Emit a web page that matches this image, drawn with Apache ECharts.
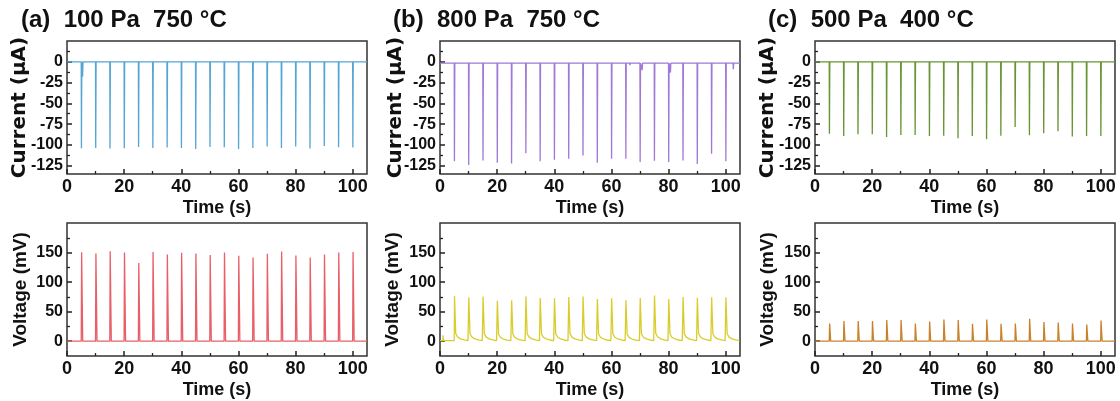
<!DOCTYPE html>
<html>
<head>
<meta charset="utf-8">
<script src="https://cdn.jsdelivr.net/npm/echarts@6/dist/echarts.min.js"></script>
<style>
html,body{margin:0;padding:0;background:#fff;}
#c{width:1120px;height:401px;}
</style>
</head>
<body>
<div id="c"></div>
<script>
// ---- data ----
const panelTitles = ['(a)  100 Pa  750 °C', '(b)  800 Pa  750 °C', '(c)  500 Pa  400 °C'];
const pulseTimes = [5,10,15,20,25,30,35,40,45,50,55,60,65,70,75,80,85,90,95,100];

const currentA = [-104,-103.6,-104.4,-104,-102.4,-103.6,-103,-103.6,-104.8,-102.4,-102.8,-104.8,-103.6,-102,-103.6,-102,-104.4,-101.2,-102.8,-103.2];
const voltageA = [150.6,148.4,152.3,150,132.2,151,146.7,149.5,148.4,146,150,144.5,141.7,147.8,151.7,145,141.7,146.7,150,151];
const currentB = [-119.8,-124.2,-118.7,-121.5,-122.3,-110,-119.8,-117.9,-116.7,-112.7,-121.4,-116.7,-116.7,-120.6,-119,-120.6,-118.7,-123,-110.7,-119.8];
const voltageB = [76.4,74.2,75.8,68.6,69.1,75.8,73,72.5,74.7,75.8,71.4,72.5,69.1,73,77.5,71.4,74.7,73.6,74.2,74.2];
const currentC = [-86.5,-89.3,-87.3,-87.3,-90.5,-88.1,-88.1,-89.3,-88.9,-92,-89.3,-93.3,-88.9,-78.6,-88.5,-86.1,-83.7,-90,-89.3,-89.3];
const voltageC = [30.1,34,34,34,35.7,35.7,30.1,33.5,36.8,35.7,29.6,36.8,29.6,30.1,37.9,32.3,31.8,30.1,28.4,35.1];

// small extra dips / bumps seen in the traces: [time, value]
const extraA = [[5.4,-18]];
const extraB = [[66.4,-4],[70.7,-10],[80.6,-13],[102.6,-9]];
const extraVB = [[1.0,10]];

const baseCurrentB = -1.5;
const baseVoltageB = 1;

const xTickLabels = [0,20,40,60,80,100];
const xMinorTicks = [10,30,50,70,90];
const curTickLabels = [0,-25,-50,-75,-100,-125];
const curMinorTicks = [12.5,-12.5,-37.5,-62.5,-87.5,-112.5];
const voltTickLabels = [0,50,100,150];
const voltMinorTicks = [25,75,125,175];

// pulse shapes (time offset, fraction of peak)
const shapeCurrent = [[-0.02,0],[0.05,1],[0.18,0]];
const shapeVoltNarrow = [[-0.02,0],[0.12,1],[0.5,0]];
const shapeVoltSlow = [[-0.02,0],[0.08,1],[0.5,0.16],[1.2,0.08],[2.2,0.04],[3.5,0.015],[4.8,0]];

function buildTrace(times, peaks, shape, base, extras) {
  const pts = [[0, base]];
  times.forEach((t, i) => {
    shape.forEach(([dt, f]) => pts.push([t + dt, base + f * (peaks[i] - base)]));
  });
  (extras || []).forEach(([t, v]) => {
    pts.push([t - 0.03, base], [t + 0.05, v], [t + 0.2, base]);
  });
  pts.push([105, base]);
  pts.sort((a, b) => a[0] - b[0]);
  return pts;
}

const colors = {
  a: ['#55a5d3', '#e85f68'],
  b: ['#a078d6', '#d9cd2e'],
  c: ['#689434', '#c9822a']
};

const lefts = [67, 440, 815];
const gridW = 300;
const topRow = {top: 41, height: 133};
const botRow = {top: 223, height: 133};
const titleLefts = [21, 393, 768];
const curNameGaps = [37, 34, 37];
const voltNameGaps = [37, 38, 38];

const font = 'Liberation Sans, Arial, sans-serif';
const wideFont = 'DejaVu Sans, Liberation Sans, sans-serif';
const txt = '#111';

const grids = [], xAxes = [], yAxes = [], series = [], titles = [];

const traces = [
  [buildTrace(pulseTimes, currentA, shapeCurrent, 0, extraA), buildTrace(pulseTimes, voltageA, shapeVoltNarrow, 0)],
  [buildTrace(pulseTimes, currentB, shapeCurrent, baseCurrentB, extraB), buildTrace(pulseTimes, voltageB, shapeVoltSlow, baseVoltageB, extraVB)],
  [buildTrace(pulseTimes, currentC, shapeCurrent, 0), buildTrace(pulseTimes, voltageC, shapeVoltNarrow, 0)]
];
const colList = [colors.a, colors.b, colors.c];

for (let p = 0; p < 3; p++) {
  titles.push({
    text: panelTitles[p], left: titleLefts[p], top: 8, padding: 0,
    textStyle: {fontFamily: font, fontWeight: 'bold', fontSize: 24, color: txt}
  });
  for (let r = 0; r < 2; r++) {
    const g = grids.length;
    const row = r === 0 ? topRow : botRow;
    grids.push({left: lefts[p], top: row.top, width: gridW, height: row.height,
      show: true, borderColor: '#333', borderWidth: 1.5, backgroundColor: 'transparent'});
    xAxes.push({
      type: 'value', gridIndex: g, min: 0, max: 105, position: 'bottom',
      axisLine: {show: false, onZero: false},
      axisTick: {show: true, inside: true, length: 5, customValues: xTickLabels, lineStyle: {color: '#222', width: 1.5}},
      axisLabel: {customValues: xTickLabels, margin: 4, fontFamily: font, fontWeight: 'bold', fontSize: 18, color: txt},
      splitLine: {show: false},
      name: 'Time (s)', nameLocation: 'middle', nameGap: 25, nameMoveOverlap: false,
      nameTextStyle: {fontFamily: font, fontWeight: 'bold', fontSize: 18, color: txt}
    });
    xAxes.push({
      type: 'value', gridIndex: g, min: 0, max: 105, position: 'bottom',
      axisLine: {show: false, onZero: false},
      axisTick: {show: true, inside: true, length: 3, customValues: xMinorTicks, lineStyle: {color: '#222', width: 1.3}},
      axisLabel: {show: false}, splitLine: {show: false}
    });
    const isCur = r === 0;
    yAxes.push({
      type: 'value', gridIndex: g, position: 'left',
      min: isCur ? -135 : -25, max: isCur ? 25 : 200,
      axisLine: {show: false, onZero: false},
      axisTick: {show: true, inside: true, length: 5, customValues: isCur ? curTickLabels : voltTickLabels, lineStyle: {color: '#222', width: 1.5}},
      axisLabel: {customValues: isCur ? curTickLabels : voltTickLabels, margin: 4, fontFamily: font, fontWeight: 'bold', fontSize: 16, color: txt},
      splitLine: {show: false},
      name: isCur ? 'Current (µA)' : 'Voltage (mV)', nameLocation: 'middle',
      nameGap: isCur ? curNameGaps[p] : voltNameGaps[p], nameMoveOverlap: false,
      nameTextStyle: isCur
        ? {fontFamily: wideFont, fontWeight: 'bold', fontSize: 20, color: txt}
        : {fontFamily: font, fontWeight: 'bold', fontSize: 19, color: txt}
    });
    yAxes.push({
      type: 'value', gridIndex: g, position: 'left',
      min: isCur ? -135 : -25, max: isCur ? 25 : 200,
      axisLine: {show: false, onZero: false},
      axisTick: {show: true, inside: true, length: 3, customValues: isCur ? curMinorTicks : voltMinorTicks, lineStyle: {color: '#222', width: 1.3}},
      axisLabel: {show: false}, splitLine: {show: false}
    });
    series.push({
      type: 'line', xAxisIndex: 2 * g, yAxisIndex: 2 * g,
      data: traces[p][r], showSymbol: false, symbol: 'none', silent: true,
      lineStyle: {color: colList[p][r], width: 1.3}
    });
  }
}

const chart = echarts.init(document.getElementById('c'), null, {renderer: 'canvas'});
chart.setOption({
  animation: false,
  backgroundColor: '#fff',
  title: titles,
  grid: grids,
  xAxis: xAxes,
  yAxis: yAxes,
  series: series
});
</script>
</body>
</html>
